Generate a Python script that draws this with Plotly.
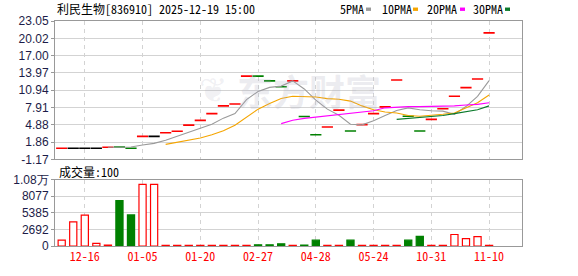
import plotly.graph_objects as go

# ---------------- data ----------------
dates = ["12-10", "12-13", "12-16", "12-19", "12-23", "12-26", "12-30", "01-05",
         "01-08", "01-12", "01-14", "01-16", "01-20", "01-24", "02-03", "02-10",
         "02-20", "02-27", "03-06", "03-14", "03-24", "04-10", "04-28", "05-06",
         "05-10", "05-14", "05-18", "05-24", "06-20", "07-25", "08-29", "09-30",
         "10-31", "11-03", "11-04", "11-05", "11-06", "11-10"]

close = [0.80, 0.80, 0.80, 0.80, 0.97, 1.02, 0.80, 2.87, 2.87, 3.49, 3.76, 4.83,
         5.67, 6.85, 8.20, 8.53, 13.41, 13.41, 12.57, 11.56, 12.57, 6.35, 3.15,
         4.50, 7.46, 3.82, 4.93, 6.85, 8.03, 12.74, 6.40, 3.82, 5.84, 7.69, 9.88,
         11.39, 12.91, 20.98]

direction = ["up", "flat", "flat", "flat", "up", "down", "down", "up", "flat", "up",
             "up", "up", "up", "up", "up", "up", "up", "down", "down", "down", "up",
             "down", "down", "up", "up", "down", "up", "up", "up", "up", "down",
             "down", "up", "up", "up", "up", "up", "up"]

ma5 = [None] * 4 + [0.97, 0.97, 1.02, 1.35, 1.64, 2.19, 2.92, 3.59, 4.38, 5.00, 6.06,
                    6.85, 9.31, 10.72, 11.44, 11.66, 12.57, 11.16, 9.21, 7.63, 6.57,
                    5.00, 4.89, 5.61, 6.52, 7.41, 7.86, 7.52, 7.36, 7.29, 6.73, 8.08,
                    9.88, 12.62]
ma10 = [None] * 9 + [1.47, 1.81, 2.14, 2.58, 3.15, 3.87, 4.83, 6.28, 7.63, 8.63, 9.48,
                     9.88, 9.88, 9.76, 9.48, 9.37, 9.04, 8.20, 7.52, 7.12, 6.96, 6.52,
                     6.40, 6.52, 6.73, 6.96, 7.86, 8.75, 10.10]
ma20 = [None] * 19 + [5.10, 5.70, 6.01, 6.23, 6.40, 6.68, 6.85, 7.02, 7.36, 7.86, 8.03,
                      8.08, 8.08, 8.08, 8.08, 8.20, 8.36, 8.47, 8.75]
ma30 = [None] * 29 + [5.84, 6.01, 6.18, 6.40, 6.52, 6.85, 7.12, 7.52, 8.20]

volume = [940, 3900, 5000, 420, 150, 7380, 5040, 9990, 9990, 100, 100, 100, 100, 100,
          100, 100, 100, 200, 200, 360, 100, 150, 940, 100, 100, 940, 100, 100, 100,
          100, 940, 1560, 100, 100, 1870, 1200, 1510, 100]

tick_idx = [2, 7, 12, 17, 22, 27, 32, 37]
price_ticks = [-1.17, 1.86, 4.88, 7.91, 10.94, 13.97, 17.00, 20.02, 23.05]
vol_ticks = [0, 2692, 5385, 8077, 10770]
vol_ticktext = ["0", "2692", "5385", "8077", "1.08万"]

# ---------------- style ----------------
UP = "#ff0000"
DOWN = "#008000"
FLAT = "#000000"
cmap = {"up": UP, "down": DOWN, "flat": FLAT}
GRID = "#d3d3d3"
BORDER = "#999999"
LABEL = "#1c1c48"
MONO = "Noto Sans Mono CJK SC, Noto Sans CJK SC, monospace"

W, H = 578, 276
L, R, T, B = 55, 56, 21, 21
PW, PH = W - L - R, H - T - B


def px(x):
    return (x - L) / PW


def py(y):
    return (H - B - y) / PH


fig = go.Figure()

# candles (one-price days drawn as ticks)
fig.add_trace(go.Scatter(
    x=dates, y=close, mode="markers", xaxis="x", yaxis="y",
    marker=dict(symbol="line-ew", size=8,
                line=dict(color=[cmap[d] for d in direction], width=1.6)),
    hoverinfo="skip", showlegend=False))

for vals, col in [(ma5, "#9a9a9a"), (ma10, "#f5a500"), (ma20, "#ff00ff"), (ma30, "#0a7a2a")]:
    fig.add_trace(go.Scatter(x=dates, y=vals, mode="lines", xaxis="x", yaxis="y",
                             line=dict(color=col, width=1.1), showlegend=False,
                             hoverinfo="skip"))

fig.add_trace(go.Bar(
    x=dates, y=volume, xaxis="x2", yaxis="y2",
    marker=dict(color=["#ffffff" if d != "down" else DOWN for d in direction],
                line=dict(color=[UP if d != "down" else DOWN for d in direction], width=1.2)),
    showlegend=False, hoverinfo="skip"))

xrange = [-0.58, 39.85]
common_x = dict(type="category", range=xrange, tickmode="array",
                tickvals=[dates[i] for i in tick_idx],
                ticktext=[dates[i] for i in tick_idx],
                showgrid=True, gridcolor=GRID, griddash="4px,4px", gridwidth=1,
                showline=True, mirror=True, linecolor=BORDER, linewidth=1,
                zeroline=False, ticks="", fixedrange=True)

fig.update_layout(
    width=W, height=H, autosize=False,
    margin=dict(l=L, r=R, t=T, b=B, pad=0),
    paper_bgcolor="white", plot_bgcolor="white",
    bargap=0.38,
    xaxis=dict(common_x, anchor="y", domain=[0, 1], showticklabels=False),
    xaxis2=dict(common_x, anchor="y2", domain=[0, 1], showticklabels=True,
                tickfont=dict(family=MONO, size=12, color="#ff0000")),
    yaxis=dict(domain=[py(165), 1], range=[price_ticks[0], price_ticks[-1]],
               tickmode="array", tickvals=price_ticks,
               ticktext=[f"{v:.2f}" for v in price_ticks],
               showgrid=True, gridcolor=GRID, gridwidth=1,
               showline=True, mirror=True, linecolor=BORDER, linewidth=1,
               ticks="outside", ticklen=3, tickcolor=BORDER, zeroline=False,
               tickfont=dict(family="Liberation Sans, Arial", size=12, color=LABEL)),
    yaxis2=dict(domain=[0, py(186)], range=[0, 10770],
                tickmode="array", tickvals=vol_ticks, ticktext=vol_ticktext,
                showgrid=True, gridcolor=GRID, gridwidth=1,
                showline=True, mirror=True, linecolor=BORDER, linewidth=1,
                ticks="outside", ticklen=3, tickcolor=BORDER, zeroline=False,
                tickfont=dict(family="Liberation Sans, Arial", size=12, color=LABEL)),
)

ann = []
# watermark
ann.append(dict(text="东方财富", x=px(309), y=py(93), xref="paper", yref="paper",
                xanchor="center", yanchor="middle",
                showarrow=False, font=dict(family="Noto Sans CJK SC", size=36,
                                           color="rgba(170,170,190,0.22)", weight="bold")))
ann.append(dict(text="❦", x=px(213), y=py(93), xref="paper", yref="paper",
                xanchor="center", yanchor="middle",
                showarrow=False, font=dict(family="DejaVu Sans", size=34,
                                           color="rgba(170,170,190,0.18)")))
# title
ann.append(dict(text="利民生物[836910] 2025-12-19 15:00", x=px(55), y=py(8.5),
                xref="paper", yref="paper", xanchor="left", yanchor="middle",
                showarrow=False, font=dict(family=MONO, size=12, color="#000")))
# volume label
ann.append(dict(text="成交量:100", x=px(57), y=py(177), xref="paper", yref="paper",
                xanchor="left", yanchor="middle", showarrow=False,
                font=dict(family=MONO, size=12, color="#000")))
# legend texts
legend_items = [("5PMA", 338, 366, "#9a9a9a"), ("10PMA", 380, 413, "#f5a500"),
                ("20PMA", 425, 460, "#ff00ff"), ("30PMA", 471, 505, "#0a7a2a")]
shapes = []
for name, tx, sx, col in legend_items:
    ann.append(dict(text=name, x=px(tx), y=py(8.5), xref="paper", yref="paper",
                    xanchor="left", yanchor="middle", showarrow=False,
                    font=dict(family=MONO, size=12, color="#000")))
    shapes.append(dict(type="rect", xref="paper", yref="paper",
                       x0=px(sx), x1=px(sx + 5), y0=py(10.5), y1=py(7),
                       fillcolor=col, line=dict(width=0)))

fig.update_layout(annotations=ann, shapes=shapes)

fig.write_html("out.html", config={"displayModeBar": False})
